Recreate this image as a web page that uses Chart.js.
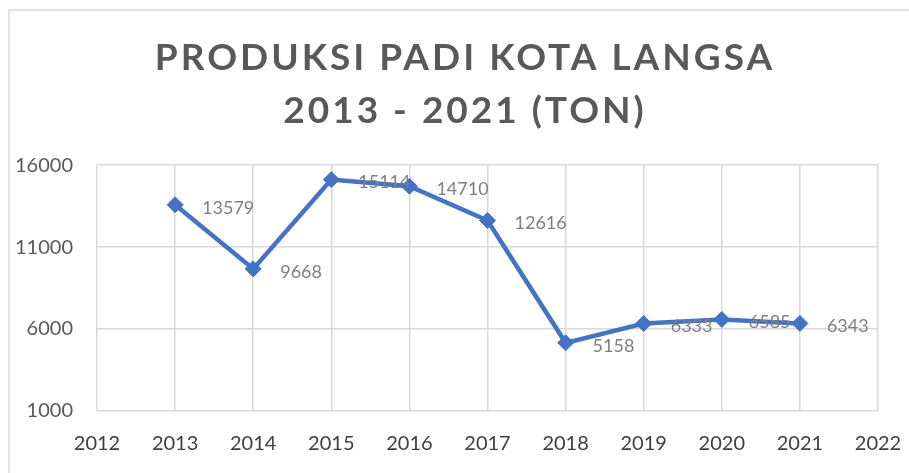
<!DOCTYPE html>
<html>
<head>
<meta charset="utf-8">
<script src="https://cdn.jsdelivr.net/npm/chart.js@4/dist/chart.umd.min.js"></script>
<style>
  html, body { margin: 0; padding: 0; background: #ffffff; }
  #wrap { width: 909px; height: 473px; position: relative; }
</style>
</head>
<body>
<div id="wrap"><canvas id="c" width="909" height="473"></canvas></div>
<script>
const titleLines = ['PRODUKSI PADI KOTA LANGSA', '2013 - 2021 (TON)'];
const years = [2013, 2014, 2015, 2016, 2017, 2018, 2019, 2020, 2021];
const production = [13579, 9668, 15114, 14710, 12616, 5158, 6333, 6585, 6343];
const xMin = 2012, xMax = 2022, xStep = 1;
const yMin = 1000, yMax = 16000, yStep = 5000;

const FONT = "Lato, 'Open Sans', sans-serif";
const BLUE = '#4472C4';

const framePlugin = {
  id: 'frame',
  beforeDraw(chart) {
    const ctx = chart.ctx;
    ctx.save();
    ctx.fillStyle = '#ffffff';
    ctx.fillRect(0, 0, chart.width, chart.height);
    ctx.strokeStyle = '#d9d9d9';
    ctx.lineWidth = 1.5;
    ctx.beginPath();
    ctx.moveTo(9, chart.height + 2);
    ctx.lineTo(9, 10);
    ctx.lineTo(chart.width + 2, 10);
    ctx.stroke();
    ctx.restore();
    // letter-spaced, slightly shifted title
    const tb = chart.titleBlock;
    if (tb && !tb._spaced) {
      const orig = tb.draw.bind(tb);
      tb.draw = function () {
        const c = this.ctx;
        c.save();
        c.letterSpacing = '3px';
        c.translate(26, 0);
        orig();
        c.restore();
      };
      tb._spaced = true;
    }
  }
};

const labelPlugin = {
  id: 'pointLabels',
  afterDatasetsDraw(chart) {
    const ctx = chart.ctx;
    const meta = chart.getDatasetMeta(0);
    const ds = chart.data.datasets[0];
    ctx.save();
    ctx.font = "18px " + FONT;
    ctx.fillStyle = '#7f7f7f';
    ctx.textAlign = 'left';
    ctx.textBaseline = 'middle';
    meta.data.forEach((pt, i) => {
      ctx.fillText(String(ds.data[i].y), pt.x + 27, pt.y + 3);
    });
    ctx.restore();
  }
};

new Chart(document.getElementById('c'), {
  type: 'line',
  data: {
    datasets: [{
      label: 'Produksi',
      data: years.map((yr, i) => ({ x: yr, y: production[i] })),
      borderColor: BLUE,
      backgroundColor: BLUE,
      borderWidth: 4.5,
      pointStyle: 'rectRot',
      pointRadius: 8,
      pointBorderWidth: 1,
      pointBorderColor: BLUE,
      pointBackgroundColor: BLUE,
      tension: 0,
      fill: false
    }]
  },
  options: {
    responsive: false,
    animation: false,
    devicePixelRatio: 1,
    layout: { padding: { left: 0, right: 31, top: 0, bottom: 0 } },
    plugins: {
      legend: { display: false },
      tooltip: { enabled: false },
      title: {
        display: true,
        text: titleLines,
        color: '#595959',
        font: { family: FONT, size: 37, weight: 'bold', lineHeight: 1.42 },
        padding: { top: 32, bottom: 28 }
      }
    },
    scales: {
      x: {
        type: 'linear',
        min: xMin,
        max: xMax,
        border: { display: false },
        grid: { color: '#d9d9d9', lineWidth: 1.5, drawTicks: false },
        ticks: {
          stepSize: xStep,
          color: '#404040',
          padding: 21,
          font: { family: FONT, size: 20 },
          callback: v => String(v)
        },
        afterFit: s => { s.height = 62; s.paddingLeft = 0; s.paddingRight = 0; }
      },
      y: {
        min: yMin,
        max: yMax,
        border: { display: false },
        grid: { color: '#d9d9d9', lineWidth: 1.5, drawTicks: false },
        ticks: {
          stepSize: yStep,
          color: '#595959',
          padding: 24,
          font: { family: FONT, size: 20 },
          callback: v => String(v)
        },
        afterFit: s => { s.width = 97; }
      }
    }
  },
  plugins: [framePlugin, labelPlugin]
});
</script>
</body>
</html>
